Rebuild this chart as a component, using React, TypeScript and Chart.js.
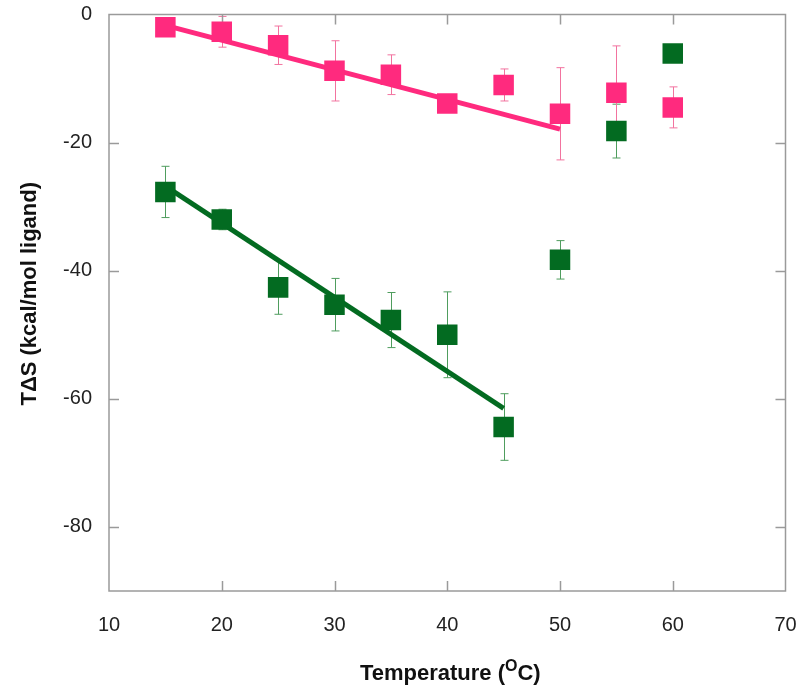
import React, { useEffect, useRef } from "react";
import { Chart, registerables } from "chart.js";

Chart.register(...registerables);

// ---- data ----
const temps = [15, 20, 25, 30, 35, 40, 45, 50, 55, 60];
const pinkValues = [-2.0, -2.7, -4.8, -8.8, -9.4, -13.9, -11.0, -15.5, -12.2, -14.5];
const pinkErrors = [1.0, 2.4, 3.0, 4.7, 3.1, 1.0, 2.5, 7.2, 7.3, 3.2];
const greenValues = [-27.7, -32.0, -42.6, -45.3, -47.7, -50.0, -64.4, -38.3, -18.2, -6.1];
const greenErrors = [4.0, 1.6, 4.2, 4.1, 4.3, 6.7, 5.2, 3.0, 4.2, 0.8];

const pinkFitX = [15, 50];
const pinkFitY = [-1.7, -17.9];
const greenFitX = [15, 45];
const greenFitY = [-26.8, -61.5];

const xTickValues = [10, 20, 30, 40, 50, 60, 70];
const yTickValues = [0, -20, -40, -60, -80];

const xTitleMain = "Temperature (";
const xTitleSup = "O";
const xTitleEnd = "C)";
const yTitle = "TΔS (kcal/mol ligand)";

// ---- styles ----
const PINK = "#ff2a7e";
const PINK_ERR = "#f2739f";
const GREEN = "#036b21";
const GREEN_ERR = "#4f9d5e";
const FONT = "'Liberation Sans', Arial, sans-serif";

const errorSets = [
  { values: greenValues, errors: greenErrors, color: GREEN_ERR },
  { values: pinkValues, errors: pinkErrors, color: PINK_ERR },
];

const framePlugin = {
  id: "frameAndExtras",
  beforeDatasetsDraw(chart: any) {
    const { ctx, chartArea, scales } = chart;
    const xs = scales.x;
    const ys = scales.y;
    ctx.save();
    // error bars
    errorSets.forEach((set) => {
      ctx.strokeStyle = set.color;
      ctx.lineWidth = 1;
      temps.forEach((t, i) => {
        const px = Math.round(xs.getPixelForValue(t)) + 0.5;
        const top = ys.getPixelForValue(set.values[i] + set.errors[i]);
        const bot = ys.getPixelForValue(set.values[i] - set.errors[i]);
        ctx.beginPath();
        ctx.moveTo(px, top);
        ctx.lineTo(px, bot);
        ctx.moveTo(px - 4, top);
        ctx.lineTo(px + 4, top);
        ctx.moveTo(px - 4, bot);
        ctx.lineTo(px + 4, bot);
        ctx.stroke();
      });
    });
    // frame
    ctx.strokeStyle = "#9a9a9a";
    ctx.lineWidth = 1.5;
    ctx.strokeRect(chartArea.left, chartArea.top, chartArea.right - chartArea.left, chartArea.bottom - chartArea.top);
    // inward ticks
    const tl = 10;
    ctx.beginPath();
    xTickValues.slice(1, -1).forEach((v) => {
      const px = Math.round(xs.getPixelForValue(v)) + 0.5;
      ctx.moveTo(px, chartArea.bottom);
      ctx.lineTo(px, chartArea.bottom - tl);
      ctx.moveTo(px, chartArea.top);
      ctx.lineTo(px, chartArea.top + tl);
    });
    yTickValues.slice(1).forEach((v) => {
      const py = Math.round(ys.getPixelForValue(v)) + 0.5;
      ctx.moveTo(chartArea.left, py);
      ctx.lineTo(chartArea.left + tl, py);
      ctx.moveTo(chartArea.right, py);
      ctx.lineTo(chartArea.right - tl, py);
    });
    ctx.stroke();
    ctx.restore();
  },
  afterDraw(chart: any) {
    const { ctx, chartArea } = chart;
    ctx.save();
    ctx.fillStyle = "#111";
    // x title with superscript
    const big = "bold 22px " + FONT;
    const small = "bold 16px " + FONT;
    ctx.font = big;
    const w1 = ctx.measureText(xTitleMain).width;
    const w3 = ctx.measureText(xTitleEnd).width;
    ctx.font = small;
    const w2 = ctx.measureText(xTitleSup).width;
    const total = w1 + w2 + w3;
    const cx = (chartArea.left + chartArea.right) / 2 + 3;
    const baseY = 680;
    let x = cx - total / 2;
    ctx.textBaseline = "alphabetic";
    ctx.textAlign = "left";
    ctx.font = big;
    ctx.fillText(xTitleMain, x, baseY);
    x += w1;
    ctx.font = small;
    ctx.fillText(xTitleSup, x, baseY - 9);
    x += w2;
    ctx.font = big;
    ctx.fillText(xTitleEnd, x, baseY);
    // y title
    ctx.translate(30, (chartArea.top + chartArea.bottom) / 2 - 9);
    ctx.rotate(-Math.PI / 2);
    ctx.textAlign = "center";
    ctx.textBaseline = "middle";
    ctx.font = big;
    ctx.fillText(yTitle, 0, 0);
    ctx.restore();
  },
};

export default function App() {
  const canvasRef = useRef<HTMLCanvasElement | null>(null);

  useEffect(() => {
    if (!canvasRef.current) return;
    const chart = new Chart(canvasRef.current, {
      type: "scatter",
      data: {
        datasets: [
          {
            label: "pink fit",
            data: pinkFitX.map((x, i) => ({ x, y: pinkFitY[i] })),
            showLine: true,
            borderColor: PINK,
            borderWidth: 5,
            pointRadius: 0,
            order: 1,
          },
          {
            label: "green fit",
            data: greenFitX.map((x, i) => ({ x, y: greenFitY[i] })),
            showLine: true,
            borderColor: GREEN,
            borderWidth: 5,
            pointRadius: 0,
            order: 1,
          },
          {
            label: "pink",
            data: temps.map((x, i) => ({ x, y: pinkValues[i] })),
            pointStyle: "rect",
            pointRadius: 14.5,
            pointBorderWidth: 0,
            backgroundColor: PINK,
            borderColor: PINK,
            borderWidth: 0,
            order: 0,
          },
          {
            label: "green",
            data: temps.map((x, i) => ({ x, y: greenValues[i] })),
            pointStyle: "rect",
            pointRadius: 14.5,
            pointBorderWidth: 0,
            backgroundColor: GREEN,
            borderColor: GREEN,
            borderWidth: 0,
            order: 0,
          },
        ],
      },
      options: {
        animation: false,
        responsive: true,
        maintainAspectRatio: false,
        layout: { padding: { left: 0, right: 13, top: 12, bottom: 0 } },
        plugins: {
          legend: { display: false },
          tooltip: { enabled: false },
        },
        events: [],
        scales: {
          x: {
            type: "linear",
            min: 10,
            max: 70,
            grid: { display: false, drawTicks: false },
            border: { display: false },
            ticks: {
              padding: 22,
              color: "#222",
              font: { family: FONT, size: 20 },
              maxRotation: 0,
            },
            afterBuildTicks: (scale: any) => {
              scale.ticks = xTickValues.map((v) => ({ value: v }));
            },
            afterFit: (scale: any) => {
              scale.height = 108;
              scale.paddingLeft = 0;
              scale.paddingRight = 0;
            },
          },
          y: {
            type: "linear",
            min: -90,
            max: 0,
            grid: { display: false, drawTicks: false },
            border: { display: false },
            ticks: {
              padding: 17,
              color: "#222",
              font: { family: FONT, size: 20 },
            },
            afterBuildTicks: (scale: any) => {
              scale.ticks = yTickValues.map((v) => ({ value: v }));
            },
            afterFit: (scale: any) => {
              scale.width = 109;
              scale.paddingTop = 0;
              scale.paddingBottom = 0;
            },
          },
        },
      },
      plugins: [framePlugin],
    });
    return () => chart.destroy();
  }, []);

  return (
    <div style={{ position: "fixed", left: 0, top: 0, width: 800, height: 699, background: "#fff" }}>
      <canvas ref={canvasRef} />
    </div>
  );
}
